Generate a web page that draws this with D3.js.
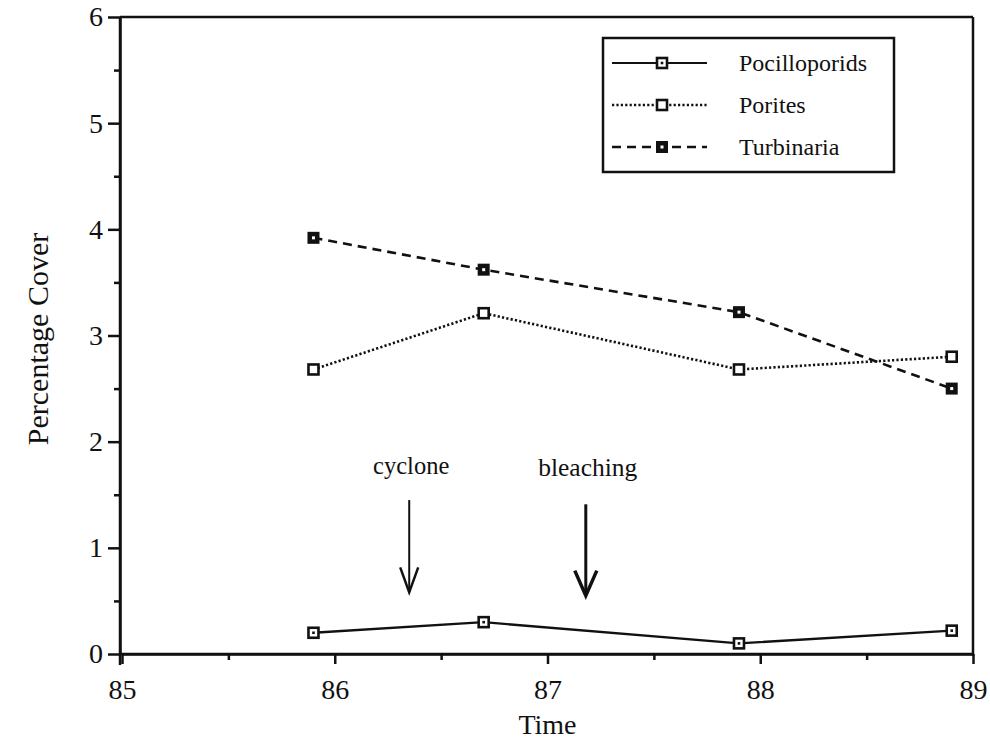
<!DOCTYPE html>
<html>
<head>
<meta charset="utf-8">
<script src="https://cdn.jsdelivr.net/npm/d3@7"></script>
<style>
  body { margin: 0; background: #fff; }
  svg text { font-family: "Liberation Serif", "Times New Roman", serif !important; }
</style>
</head>
<body>
<div id="chart"></div>
<script>
"use strict";

// data
var years = [85.9, 86.7, 87.9, 88.9];
var pocilloporids = [0.2, 0.3, 0.1, 0.22];
var porites = [2.68, 3.21, 2.68, 2.8];
var turbinaria = [3.92, 3.62, 3.22, 2.5];

var seriesNames = ["Pocilloporids", "Porites", "Turbinaria"];
var xTicks = [85, 86, 87, 88, 89];
var yTicks = [0, 1, 2, 3, 4, 5, 6];

var events = ["cyclone", "bleaching"];
var eventYears = [86.35, 87.18];

var W = 990, H = 747;
var margin = {top: 17, right: 17, bottom: 93, left: 120};
var width = W - margin.left - margin.right,
    height = H - margin.top - margin.bottom;

var svg = d3.select("#chart").append("svg")
    .attr("width", W).attr("height", H);

var g = svg.append("g")
    .attr("transform", "translate(" + margin.left + "," + margin.top + ")");

var x = d3.scaleLinear().domain([85, 89]).range([2, width]);
var y = d3.scaleLinear().domain([0, 6]).range([height, 0]);

var ink = "#111";

// frame: top and right
g.append("line").attr("x1", 0).attr("x2", width).attr("y1", 0).attr("y2", 0)
  .attr("stroke", ink).attr("stroke-width", 2.5);
g.append("line").attr("x1", width).attr("x2", width).attr("y1", 0).attr("y2", height + 2)
  .attr("stroke", ink).attr("stroke-width", 2.5);

// minor ticks
var yMinor = d3.range(0.5, 6, 1);
var xMinor = d3.range(85.5, 89, 1);

var yAxis = g.append("g")
  .call(d3.axisLeft(y).tickValues(yTicks).tickFormat(d3.format("d"))
    .tickSize(12).tickPadding(5).tickSizeOuter(0));
var yAxisMinor = g.append("g")
  .call(d3.axisLeft(y).tickValues(yMinor).tickSize(6).tickFormat("").tickSizeOuter(0));
var xAxis = g.append("g").attr("transform", "translate(0," + height + ")")
  .call(d3.axisBottom(x).tickValues(xTicks).tickFormat(d3.format("d"))
    .tickSize(10).tickPadding(15).tickSizeOuter(0));
var xAxisMinor = g.append("g").attr("transform", "translate(0," + height + ")")
  .call(d3.axisBottom(x).tickValues(xMinor).tickSize(6).tickFormat("").tickSizeOuter(0));

[yAxis, yAxisMinor, xAxis, xAxisMinor].forEach(function(a){
  a.attr("font-family", null).attr("font-size", 28);
  a.selectAll("path.domain").attr("stroke", ink).attr("stroke-width", 2.5);
  a.selectAll(".tick line").attr("stroke", ink).attr("stroke-width", 2.5);
  a.selectAll(".tick text").attr("fill", ink);
});
// left axis runs a little below the x axis
yAxis.select("path.domain").attr("d", "M0,0V" + (height + 11));
xAxis.select("path.domain").attr("d", "M0,0H" + width);

// axis titles
svg.append("text")
  .attr("x", margin.left + x(87)).attr("y", 734)
  .attr("text-anchor", "middle").attr("font-size", 28).attr("fill", ink).text("Time");
svg.append("text")
  .attr("transform", "translate(48," + 339 + ") rotate(-90)")
  .attr("text-anchor", "middle").attr("font-size", 30).attr("fill", ink).text("Percentage Cover");

// series
var styles = [
  {dash: null, marker: "dot"},
  {dash: "2.2,2.2", marker: "open"},
  {dash: "9,6", marker: "thick"}
];
var allValues = [pocilloporids, porites, turbinaria];

var line = d3.line()
  .x(function(d){ return x(d[0]); })
  .y(function(d){ return y(d[1]); });

function drawMarker(sel, kind) {
  if (kind === "thick") {
    sel.append("rect").attr("x", -6).attr("y", -6).attr("width", 12).attr("height", 12)
      .attr("fill", ink);
    sel.append("rect").attr("x", -1.5).attr("y", -1.5).attr("width", 3).attr("height", 3)
      .attr("fill", "#fff");
  } else {
    sel.append("rect").attr("x", -5).attr("y", -5).attr("width", 10).attr("height", 10)
      .attr("fill", "#fff").attr("stroke", ink).attr("stroke-width", 2.6);
    if (kind === "dot") {
      sel.append("rect").attr("x", -1.3).attr("y", -1.3).attr("width", 2.6).attr("height", 2.6)
        .attr("fill", ink);
    }
  }
}

allValues.forEach(function(vals, i){
  var pts = years.map(function(yr, j){ return [yr, vals[j]]; });
  g.append("path").datum(pts)
    .attr("d", line)
    .attr("fill", "none")
    .attr("stroke", ink)
    .attr("stroke-width", i === 0 ? 2.4 : 2.6)
    .attr("stroke-dasharray", styles[i].dash);
  g.selectAll(".m" + i).data(pts).enter().append("g")
    .attr("class", "m" + i)
    .attr("transform", function(d){ return "translate(" + x(d[0]) + "," + y(d[1]) + ")"; })
    .each(function(){ drawMarker(d3.select(this), styles[i].marker); });
});

// event annotations
var arrowTop = [1.45, 1.41], arrowBottom = [0.58, 0.55];
var arrowWidth = [2, 3];
var headWidth = [9, 11];
events.forEach(function(name, i){
  var ex = x(eventYears[i]);
  g.append("text")
    .attr("x", ex + 2).attr("y", y(1.7) + (i === 1 ? 2 : 0))
    .attr("text-anchor", "middle").attr("font-size", i === 0 ? 24.5 : 25.5)
    .attr("fill", ink).text(name);
  var yt = y(arrowTop[i]), yb = y(arrowBottom[i]);
  g.append("line").attr("x1", ex).attr("x2", ex).attr("y1", yt).attr("y2", yb)
    .attr("stroke", ink).attr("stroke-width", arrowWidth[i]);
  g.append("path")
    .attr("d", "M" + (ex - headWidth[i]) + "," + (yb - 25) + "L" + ex + "," + yb + "L" + (ex + headWidth[i]) + "," + (yb - 25))
    .attr("fill", "none").attr("stroke", ink).attr("stroke-width", arrowWidth[i] + 0.5);
});

// legend
var legend = svg.append("g").attr("transform", "translate(603,38)");
legend.append("rect").attr("width", 291).attr("height", 134)
  .attr("fill", "#fff").attr("stroke", ink).attr("stroke-width", 2.5);
seriesNames.forEach(function(name, i){
  var ry = 25 + i * 42;
  legend.append("line").attr("x1", 9).attr("x2", 104).attr("y1", ry).attr("y2", ry)
    .attr("stroke", ink).attr("stroke-width", i === 0 ? 2.2 : 2.4)
    .attr("stroke-dasharray", styles[i].dash);
  var m = legend.append("g").attr("transform", "translate(59," + ry + ")");
  drawMarker(m, styles[i].marker);
  legend.append("text").attr("x", 136).attr("y", ry + 8)
    .attr("font-size", 24).attr("fill", ink).text(name);
});
</script>
</body>
</html>
